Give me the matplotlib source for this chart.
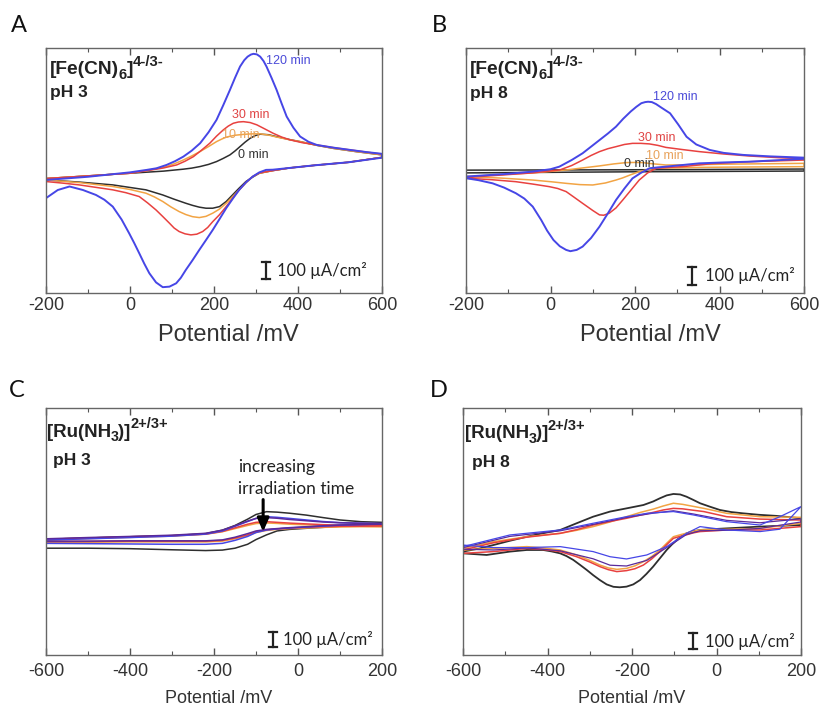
import matplotlib
matplotlib.use("Agg")
import matplotlib.pyplot as plt
import matplotlib.transforms as mtransforms
from matplotlib.ticker import MultipleLocator

plt.rcParams['font.family'] = ['Liberation Sans', 'DejaVu Sans']
plt.rcParams['axes.unicode_minus'] = False

# ---------------------------------------------------------------
# Cyclic voltammograms, current density in uA/cm^2 vs potential in mV
# each curve: forward (anodic) branch and reverse (cathodic) branch
# ---------------------------------------------------------------

# Panel A: [Fe(CN)6]4-/3-, pH 3
a_black_up_E = [-200, -100, 0, 80, 127, 147, 167, 187, 206, 222, 238, 250, 262, 274, 286, 298, 310, 330, 349, 377, 405, 445, 484, 540, 600]
a_black_up_I = [-30, -15, 0, 12, 23, 29, 38, 50, 66, 84, 104, 126, 151, 176, 198, 213, 221, 218, 207, 192, 179, 158, 141, 122, 104]
a_black_dn_E = [600, 520, 440, 380, 340, 308, 292, 276, 260, 244, 229, 213, 197, 181, 165, 149, 133, 105, 78, 38, -41, -121, -200]
a_black_dn_I = [90, 62, 45, 30, 15, 0, -22, -47, -84, -123, -160, -189, -198, -198, -192, -182, -170, -147, -123, -94, -66, -50, -38]

a_orange_up_E = [-200, -100, 0, 50, 87, 107, 127, 147, 167, 187, 206, 218, 230, 250, 270, 290, 310, 330, 349, 377, 405, 445, 484, 540, 600]
a_orange_up_I = [-30, -15, 0, 20, 38, 55, 75, 98, 123, 151, 179, 193, 205, 215, 220, 223, 223, 216, 205, 191, 179, 158, 141, 122, 104]
a_orange_dn_E = [600, 520, 440, 380, 340, 308, 292, 276, 260, 244, 229, 213, 197, 181, 165, 149, 133, 117, 97, 78, 58, 38, 0, -41, -121, -200]
a_orange_dn_I = [90, 62, 45, 30, 15, 0, -19, -55, -94, -133, -170, -203, -226, -244, -251, -246, -234, -217, -190, -160, -134, -113, -92, -75, -53, -38]

a_red_up_E = [-200, -100, 0, 50, 80, 111, 131, 151, 170, 190, 206, 222, 234, 246, 258, 270, 286, 302, 320, 341, 361, 381, 410, 445, 484, 524, 562, 600]
a_red_up_I = [-30, -15, 0, 18, 30, 47, 68, 94, 130, 170, 210, 245, 267, 283, 290, 292, 287, 274, 252, 226, 205, 189, 173, 160, 145, 132, 120, 108]
a_red_dn_E = [600, 520, 440, 380, 340, 308, 292, 276, 260, 245, 229, 213, 197, 185, 173, 159, 145, 131, 117, 105, 94, 78, 62, 42, 22, -10, -41, -81, -121, -160, -200]
a_red_dn_I = [90, 62, 45, 30, 15, 2, -19, -52, -94, -140, -189, -235, -274, -307, -330, -345, -349, -343, -330, -310, -283, -245, -208, -168, -132, -110, -94, -80, -66, -56, -47]

a_blue_up_E = [-200, -100, 0, 40, 63, 87, 107, 127, 147, 167, 187, 206, 222, 238, 250, 262, 272, 280, 288, 294, 302, 310, 318, 325, 337, 349, 361, 373, 389, 405, 425, 445, 484, 524, 562, 600]
a_blue_up_I = [-38, -20, 5, 19, 28, 47, 68, 94, 128, 170, 232, 302, 385, 472, 540, 604, 640, 660, 672, 676, 673, 660, 635, 604, 540, 472, 395, 321, 258, 208, 178, 160, 145, 132, 120, 110]
a_blue_dn_E = [600, 520, 440, 380, 340, 324, 308, 292, 276, 260, 245, 229, 213, 197, 181, 165, 149, 133, 121, 110, 94, 78, 62, 46, 34, 22, 10, -2, -20, -41, -61, -81, -112, -144, -172, -200]
a_blue_dn_I = [88, 62, 45, 30, 20, 19, 5, -19, -52, -94, -143, -198, -260, -321, -378, -434, -492, -547, -592, -623, -642, -645, -618, -566, -512, -453, -395, -340, -262, -189, -150, -123, -95, -75, -95, -141]

# Panel B: [Fe(CN)6]4-/3-, pH 8
b_black_up_E = [-200, 0, 200, 400, 600]
b_black_up_I = [10, 11, 12, 14, 16]
b_black_dn_E = [600, 400, 200, 0, -200]
b_black_dn_I = [5, 3, 1, -2, -5]

b_orange_up_E = [-200, -42, 0, 37, 76, 116, 150, 179, 200, 218, 240, 273, 350, 431, 520, 600]
b_orange_up_I = [-25, -5, 3, 11, 22, 33, 44, 51, 52, 51, 45, 38, 40, 43, 45, 47]
b_orange_dn_E = [600, 450, 352, 290, 250, 230, 210, 190, 170, 155, 130, 100, 70, 37, 0, -42, -120, -200]
b_orange_dn_I = [29, 27, 25, 22, 20, 13, 2, -15, -33, -44, -60, -71, -69, -62, -53, -44, -33, -25]

b_red_up_E = [-200, -42, 22, 50, 76, 96, 116, 136, 155, 175, 194, 214, 234, 254, 273, 313, 352, 410, 471, 540, 600]
b_red_up_I = [-30, -5, 11, 35, 65, 90, 111, 127, 138, 150, 156, 156, 153, 145, 134, 122, 111, 98, 87, 78, 72]
b_red_dn_E = [600, 470, 380, 313, 280, 250, 230, 210, 190, 171, 155, 139, 126, 116, 100, 76, 56, 37, 17, -3, -42, -82, -140, -200]
b_red_dn_I = [65, 56, 45, 29, 25, 20, -5, -44, -100, -153, -196, -225, -236, -234, -210, -171, -138, -107, -90, -80, -66, -53, -42, -34]

b_blue_up_E = [-200, -100, -42, 0, 21, 50, 76, 96, 116, 136, 155, 172, 190, 203, 215, 224, 231, 240, 250, 263, 283, 302, 322, 345, 377, 410, 456, 520, 600]
b_blue_up_I = [-25, -10, 2, 15, 29, 65, 102, 138, 174, 210, 247, 290, 330, 355, 375, 381, 383, 381, 370, 350, 320, 260, 192, 150, 120, 104, 93, 85, 78]
b_blue_dn_E = [600, 520, 471, 410, 352, 313, 273, 254, 234, 214, 194, 175, 155, 136, 116, 96, 76, 62, 47, 37, 22, 7, -8, -22, -42, -62, -82, -110, -137, -170, -200]
b_blue_dn_I = [72, 62, 56, 52, 47, 38, 29, 25, 20, -5, -35, -90, -153, -225, -298, -360, -407, -425, -432, -425, -405, -371, -320, -262, -189, -145, -116, -85, -62, -45, -34]

# Panel C: [Ru(NH3)]2+/3+, pH 3
c_E_up = [-600, -500, -400, -300, -220, -180, -150, -120, -100, -75, -50, -20, 20, 60, 100, 150, 200]
c_E_dn = [200, 150, 100, 60, 20, -20, -50, -75, -100, -120, -150, -180, -220, -300, -400, -500, -600]
c_black_up = [-8, 0, 8, 15, 28, 50, 80, 120, 150, 168, 165, 158, 146, 130, 115, 104, 100]
c_black_dn = [88, 82, 75, 68, 62, 55, 45, 20, -10, -40, -65, -77, -80, -75, -68, -65, -65]
c_orange_up = [-12, -4, 4, 12, 24, 40, 60, 80, 92, 96, 93, 88, 84, 80, 77, 75, 74]
c_orange_dn = [72, 72, 70, 68, 64, 60, 55, 48, 35, 15, -5, -20, -25, -25, -25, -27, -28]
c_red_up = [-8, 0, 8, 15, 25, 42, 65, 88, 100, 104, 100, 95, 90, 85, 82, 80, 80]
c_red_dn = [78, 77, 75, 72, 68, 63, 58, 52, 40, 20, 0, -15, -20, -20, -20, -22, -23]
c_purple_up = [-5, 3, 10, 18, 30, 50, 78, 108, 125, 130, 126, 118, 110, 102, 97, 94, 92]
c_purple_dn = [90, 86, 83, 78, 72, 66, 60, 55, 45, 28, 5, -12, -18, -18, -18, -20, -20]
c_blue_up = [-13, -5, 3, 12, 25, 45, 75, 105, 125, 136, 132, 125, 115, 105, 98, 94, 92]
c_blue_dn = [88, 86, 82, 76, 70, 64, 58, 51, 35, 10, -15, -34, -40, -40, -38, -36, -34]

# Panel D: [Ru(NH3)]2+/3+, pH 8
d_black_up_E = [-600, -560, -528, -490, -449, -410, -370, -331, -292, -252, -213, -173, -150, -134, -118, -102, -86, -71, -55, -39, -15, 8, 35, 63, 100, 142, 200]
d_black_up_I = [-85, -65, -44, -18, 8, 30, 50, 92, 133, 165, 185, 206, 228, 248, 266, 275, 272, 258, 238, 217, 195, 175, 162, 154, 145, 138, 123]
d_black_dn_E = [200, 150, 103, 60, 24, -10, -39, -55, -71, -83, -94, -106, -118, -134, -150, -166, -181, -197, -213, -229, -244, -260, -276, -292, -307, -323, -339, -355, -370, -390, -410, -449, -489, -544, -600]
d_black_dn_I = [81, 76, 71, 65, 60, 55, 50, 42, 29, 10, -13, -42, -75, -127, -179, -225, -263, -290, -304, -308, -305, -290, -263, -232, -200, -168, -137, -113, -96, -84, -75, -75, -85, -106, -96]

d_orange_up_E = [-600, -528, -449, -370, -331, -292, -252, -213, -180, -150, -126, -102, -80, -60, -30, 24, 103, 200]
d_orange_up_I = [-65, -23, 8, 29, 48, 71, 100, 133, 160, 180, 200, 217, 210, 200, 185, 154, 133, 129]
d_orange_dn_E = [200, 103, 24, -39, -55, -71, -86, -102, -118, -134, -153, -173, -193, -213, -236, -256, -276, -300, -331, -370, -410, -449, -528, -600]
d_orange_dn_I = [92, 60, 54, 50, 42, 30, 20, 8, -33, -75, -115, -148, -174, -190, -196, -187, -169, -140, -106, -75, -62, -54, -65, -75]

d_red_up_E = [-600, -528, -449, -370, -331, -292, -252, -213, -180, -150, -126, -102, -80, -60, -30, 24, 103, 200]
d_red_up_I = [-75, -30, 5, 29, 52, 81, 103, 123, 143, 160, 175, 185, 182, 175, 165, 133, 118, 112]
d_red_dn_E = [200, 103, 24, -39, -55, -71, -86, -102, -118, -134, -153, -173, -193, -213, -236, -256, -276, -300, -331, -370, -410, -449, -528, -600]
d_red_dn_I = [71, 50, 50, 40, 32, 20, 10, -2, -42, -85, -130, -169, -192, -204, -210, -198, -179, -150, -117, -85, -72, -65, -85, -96]

d_purple_up_E = [-600, -489, -370, -292, -213, -150, -102, -55, 24, 103, 200]
d_purple_up_I = [-60, 10, 45, 85, 128, 155, 170, 150, 110, 95, 120]
d_purple_dn_E = [200, 103, 24, -39, -71, -118, -165, -213, -252, -292, -370, -449, -528, -600]
d_purple_dn_I = [100, 60, 48, 45, 22, -60, -140, -175, -170, -130, -80, -62, -75, -70]

d_blue_up_E = [-600, -489, -370, -292, -213, -165, -102, -55, 24, 103, 150, 200]
d_blue_up_I = [-54, 19, 50, 92, 133, 154, 165, 144, 102, 81, 133, 196]
d_blue_dn_E = [200, 150, 103, 24, -39, -71, -118, -165, -213, -252, -292, -370, -449, -528, -600]
d_blue_dn_I = [196, 55, 40, 50, 71, 29, -54, -106, -131, -117, -85, -54, -60, -60, -44]

# Irradiation-time labels on panels A and B: (text, E, I)
a_time_labels = [("120 min", 325, 636), ("30 min", 243, 330), ("10 min", 218, 217), ("0 min", 258, 104)]
b_time_labels = [("120 min", 242, 407), ("30 min", 206, 184), ("10 min", 226, 87), ("0 min", 173, 44)]

BLACK = '#2e2e2e'
ORANGE = '#f2a444'
RED = '#e8413f'
PURPLE = '#5a2a9a'
BLUE = '#4646e6'
LABEL_COLORS = {"120 min": '#4a4ad8', "30 min": '#e04444', "10 min": '#e8a25a', "0 min": '#333333'}

fig = plt.figure(figsize=(8.19, 7.09), dpi=100)
W, H = 819.0, 709.0
PX = mtransforms.IdentityTransform()


def make_axes(x0, y0, x1, y1):
    return fig.add_axes([x0 / W, 1 - y1 / H, (x1 - x0) / W, (y1 - y0) / H])


def cv(ax, Eu, Iu, Ed, Id, color, lw=1.1):
    ax.plot(list(Eu) + list(Ed), list(Iu) + list(Id), color=color, lw=lw,
            solid_joinstyle='round', solid_capstyle='round')


def style(ax, xlim, ylim, tick_size, label_size, label_x, label_y, pad):
    ax.set_xlim(*xlim)
    ax.set_ylim(*ylim)
    ax.xaxis.set_major_locator(MultipleLocator(200))
    ax.xaxis.set_minor_locator(MultipleLocator(100))
    ax.tick_params(axis='x', which='both', direction='in', top=True, bottom=True,
                   color='#555555', labelsize=tick_size, pad=pad)
    ax.tick_params(axis='x', which='major', length=5, width=1)
    ax.tick_params(axis='x', which='minor', length=3, width=0.8)
    ax.tick_params(axis='y', which='both', left=False, right=False, labelleft=False)
    for s in ax.spines.values():
        s.set_color('#666666')
        s.set_linewidth(1.0)
    ax.set_xlabel('Potential /mV', fontsize=label_size, color='#333333')
    ax.xaxis.set_label_coords(label_x, label_y)
    for t in ax.get_xticklabels():
        t.set_color('#333333')


def scale_bar(ax, xf, y_center, xt, size=12):
    tr = mtransforms.blended_transform_factory(ax.transAxes, ax.transData)
    y0, y1 = y_center - 50, y_center + 50
    ax.plot([xf, xf], [y0, y1], color='#222222', lw=1.6, transform=tr)
    ax.plot([xf - 0.012, xf + 0.012], [y0, y0], color='#222222', lw=1.6, transform=tr)
    ax.plot([xf - 0.012, xf + 0.012], [y1, y1], color='#222222', lw=1.6, transform=tr)
    ax.text(xt, y_center, '100 \u00b5A/cm\u00b2', transform=tr, va='center', ha='left',
            fontsize=size, family=['Lato', 'DejaVu Sans'], color='#222222')


def chem_label(ax, xf, yf, parts, size):
    """Bold formula built from pieces: ('text', 'main'|'sub'|'sup')."""
    renderer = fig.canvas.get_renderer()
    x, y = ax.transAxes.transform((xf, yf))
    scale = {'main': 1.0, 'sub': 0.76, 'sup': 0.78}
    shift = {'main': 0.0, 'sub': -4.5, 'sup': 8.5}
    for text, kind in parts:
        t = fig.text(x, y + shift[kind] * size / 13.5, text, transform=PX,
                     fontsize=size * scale[kind], fontweight='bold',
                     va='baseline', ha='left', color='#222222')
        x += t.get_window_extent(renderer).width - 0.5


# ----- Panel A -----
axA = make_axes(46, 48, 382, 293)
cv(axA, a_black_up_E, a_black_up_I, a_black_dn_E, a_black_dn_I, BLACK)
cv(axA, a_orange_up_E, a_orange_up_I, a_orange_dn_E, a_orange_dn_I, ORANGE)
cv(axA, a_red_up_E, a_red_up_I, a_red_dn_E, a_red_dn_I, RED)
cv(axA, a_blue_up_E, a_blue_up_I, a_blue_dn_E, a_blue_dn_I, BLUE, lw=1.4)
style(axA, (-200, 600), (-678, 709), 13, 17, 0.542, -0.125, 3)
for txt, e, i in a_time_labels:
    axA.text(e, i, txt, color=LABEL_COLORS[txt], fontsize=9, ha='left', va='center')
fe_parts = [('[Fe(CN)', 'main'), ('6', 'sub'), (']', 'main'), ('4-/3-', 'sup')]
chem_label(axA, 0.012, 0.893, fe_parts, 13.8)
axA.text(0.012, 0.80, 'pH 3', transform=axA.transAxes, fontsize=12.5,
         fontweight='bold', va='baseline', color='#222222')
scale_bar(axA, 0.655, -550, 0.687)

# ----- Panel B -----
axB = make_axes(466, 48, 804, 293)
cv(axB, b_black_up_E, b_black_up_I, b_black_dn_E, b_black_dn_I, BLACK)
cv(axB, b_orange_up_E, b_orange_up_I, b_orange_dn_E, b_orange_dn_I, ORANGE)
cv(axB, b_red_up_E, b_red_up_I, b_red_dn_E, b_red_dn_I, RED)
cv(axB, b_blue_up_E, b_blue_up_I, b_blue_dn_E, b_blue_dn_I, BLUE, lw=1.4)
style(axB, (-200, 600), (-660, 676), 13, 17, 0.545, -0.125, 3)
for txt, e, i in b_time_labels:
    axB.text(e, i, txt, color=LABEL_COLORS[txt], fontsize=9, ha='left', va='center')
chem_label(axB, 0.012, 0.893, fe_parts, 13.8)
axB.text(0.012, 0.795, 'pH 8', transform=axB.transAxes, fontsize=12.5,
         fontweight='bold', va='baseline', color='#222222')
scale_bar(axB, 0.668, -566, 0.707)

# ----- Panel C -----
axC = make_axes(46, 408, 382, 655)
cv(axC, c_E_up, c_black_up, c_E_dn, c_black_dn, BLACK)
cv(axC, c_E_up, c_orange_up, c_E_dn, c_orange_dn, ORANGE)
cv(axC, c_E_up, c_red_up, c_E_dn, c_red_dn, RED)
cv(axC, c_E_up, c_blue_up, c_E_dn, c_blue_dn, BLUE)
cv(axC, c_E_up, c_purple_up, c_E_dn, c_purple_dn, PURPLE)
style(axC, (-600, 200), (-746, 829), 13, 13, 0.515, -0.14, 6)
ru_parts = [('[Ru(NH', 'main'), ('3', 'sub'), (')]', 'main'), ('2+/3+', 'sup')]
chem_label(axC, 0.004, 0.884, ru_parts, 13.5)
axC.text(0.022, 0.769, 'pH 3', transform=axC.transAxes, fontsize=12.5,
         fontweight='bold', va='baseline', color='#222222')
axC.annotate('', xy=(-83, 40), xytext=(-83, 245),
             arrowprops=dict(arrowstyle='-|>,head_length=0.8,head_width=0.35',
                             color='black', lw=2.2, shrinkA=0, shrinkB=0))
axC.text(-143, 455, 'increasing', fontsize=12.5, family=['Lato', 'DejaVu Sans'],
         va='center', ha='left', color='#222222')
axC.text(-143, 311, 'irradiation time', fontsize=12.5, family=['Lato', 'DejaVu Sans'],
         va='center', ha='left', color='#222222')
scale_bar(axC, 0.676, -648, 0.704)

# ----- Panel D -----
axD = make_axes(463, 408, 801, 655)
cv(axD, d_black_up_E, d_black_up_I, d_black_dn_E, d_black_dn_I, BLACK, lw=1.3)
cv(axD, d_orange_up_E, d_orange_up_I, d_orange_dn_E, d_orange_dn_I, ORANGE)
cv(axD, d_red_up_E, d_red_up_I, d_red_dn_E, d_red_dn_I, RED)
cv(axD, d_purple_up_E, d_purple_up_I, d_purple_dn_E, d_purple_dn_I, PURPLE, lw=0.9)
cv(axD, d_blue_up_E, d_blue_up_I, d_blue_dn_E, d_blue_dn_I, BLUE, lw=0.9)
style(axD, (-600, 200), (-731, 812), 13, 13, 0.5, -0.14, 6)
chem_label(axD, 0.006, 0.877, ru_parts, 13.5)
axD.text(0.026, 0.762, 'pH 8', transform=axD.transAxes, fontsize=12.5,
         fontweight='bold', va='baseline', color='#222222')
scale_bar(axD, 0.681, -646, 0.716)

# Panel letters
for letter, px, py in [('A', 11, 15), ('B', 432, 15), ('C', 9, 380), ('D', 430, 380)]:
    fig.text(px / W, 1 - py / H, letter, fontsize=17, family=['Lato', 'DejaVu Sans'],
             va='top', ha='left', color='#111111')

fig.savefig('out.png', dpi=100)
